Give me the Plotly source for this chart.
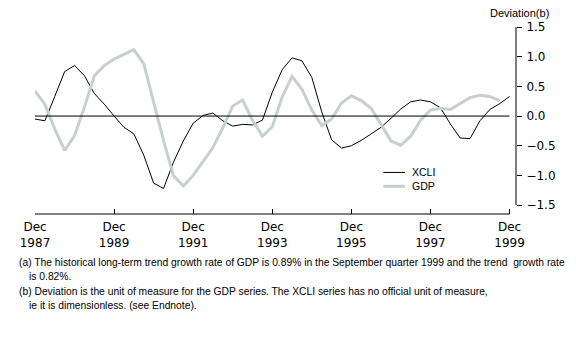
import plotly.graph_objects as go

# quarterly points, Dec 1987 .. Dec 1999 (index 0 = Dec 1987)
xcli = [-0.05, -0.08, 0.33, 0.75, 0.85, 0.68, 0.38, 0.20, 0.00, -0.19,
        -0.30, -0.66, -1.13, -1.22, -0.78, -0.42, -0.12, 0.01, 0.05, -0.08,
        -0.17, -0.14, -0.15, -0.07, 0.40, 0.78, 0.98, 0.93, 0.65, 0.07,
        -0.40, -0.54, -0.50, -0.41, -0.30, -0.19, -0.04, 0.12, 0.24, 0.27,
        0.24, 0.14, -0.13, -0.37, -0.38, -0.08, 0.11, 0.21, 0.33]
gdp = [0.42, 0.20, -0.22, -0.58, -0.33, 0.15, 0.68, 0.85, 0.96, 1.04,
       1.12, 0.88, 0.22, -0.41, -1.00, -1.18, -1.00, -0.76, -0.53, -0.20,
       0.17, 0.27, -0.07, -0.34, -0.18, 0.32, 0.67, 0.45, 0.10, -0.16,
       -0.05, 0.22, 0.34, 0.26, 0.13, -0.14, -0.42, -0.49, -0.34, -0.07,
       0.10, 0.13, 0.11, 0.21, 0.31, 0.35, 0.33, 0.26]
tick_pos = [0, 8, 16, 24, 32, 40, 48]
tick_text = ["Dec<br>1987", "Dec<br>1989", "Dec<br>1991", "Dec<br>1993",
             "Dec<br>1995", "Dec<br>1997", "Dec<br>1999"]
y_ticks = [-1.5, -1.0, -0.5, 0.0, 0.5, 1.0, 1.5]
series_names = ["XCLI", "GDP"]
series_colors = ["black", "#c8d0cc"]
series_widths = [1, 3]

notes = [
    "(a) The historical long-term trend growth rate of GDP is 0.89% in the September quarter 1999 and the trend  growth rate",
    "is 0.82%.",
    "(b) Deviation is the unit of measure for the GDP series. The XCLI series has no official unit of measure,",
    "ie it is dimensionless. (see Endnote).",
]

# the page body has an 8px margin, so the figure is drawn from (8, 8)
OFF = 8
W, H = 576 - OFF, 338 - OFF
L, R, T, B = 26.5, 516, 25, 214   # plot area in window pixels
SANS = "Liberation Sans, Arial, sans-serif"


def px(x, y):
    # window pixel position -> paper coordinates
    return (x - L) / (R - L), (B - y) / (B - T)


fig = go.Figure()
for name, vals, col, w in zip(series_names, [xcli, gdp], series_colors, series_widths):
    fig.add_trace(go.Scatter(x=list(range(len(vals))), y=vals, name=name,
                             mode="lines", line=dict(color=col, width=w)))

# zero line, x axis line, y axis line
fig.add_shape(type="line", x0=0, x1=48, y0=0, y1=0, xref="x", yref="y",
              line=dict(color="black", width=1))
fig.add_shape(type="line", x0=0, x1=48, y0=0, y1=0, xref="x", yref="paper",
              line=dict(color="black", width=1))
fig.add_shape(type="line", x0=1, x1=1, y0=-1.5, y1=1.5, xref="paper", yref="y",
              line=dict(color="black", width=1))

# legend drawn by hand (tighter than plotly's)
for i, (name, col, w) in enumerate(zip(series_names, series_colors, series_widths)):
    x0, yy = px(381, 172 + 14 * i)
    x1, _ = px(403, 0)
    fig.add_shape(type="line", x0=x0, x1=x1, y0=yy, y1=yy, xref="paper", yref="paper",
                  line=dict(color=col, width=w))
    tx, _ = px(408, 0)
    fig.add_annotation(text=name, x=tx, y=yy, xref="paper", yref="paper",
                       xanchor="left", yanchor="middle", showarrow=False,
                       font=dict(family=SANS, size=10.5, color="black"))

ax, ay = px(552, 11)
fig.add_annotation(text="Deviation(b)", x=ax, y=ay, xref="paper", yref="paper",
                   xanchor="right", yanchor="middle", showarrow=False,
                   font=dict(family=SANS, size=11, color="black"))

note_pos = [(OFF, 263), (OFF + 10, 277), (OFF, 292), (OFF + 10, 306)]
for txt, (nx, ny) in zip(notes, note_pos):
    ax, ay = px(nx, ny)
    fig.add_annotation(text=txt, x=ax, y=ay, xref="paper", yref="paper",
                       xanchor="left", yanchor="middle", showarrow=False,
                       font=dict(family=SANS, size=10.3, color="black"))

fig.update_layout(
    width=W, height=H,
    margin=dict(l=L - OFF, r=576 - R, t=T - OFF, b=338 - B, pad=0),
    plot_bgcolor="white", paper_bgcolor="white",
    font=dict(family="DejaVu Sans", size=12, color="black"),
    showlegend=False,
    xaxis=dict(range=[0, 48.65], showgrid=False, zeroline=False, showline=False,
               tickmode="array", tickvals=tick_pos, ticktext=tick_text,
               ticks="inside", ticklen=5, tickcolor="black", ticklabelstandoff=4),
    yaxis=dict(range=[-1.65, 1.5], side="right", showgrid=False, zeroline=False,
               showline=False, tickmode="array", tickvals=y_ticks,
               tickformat=".1f", ticks="outside", ticklen=5, tickcolor="black",
               ticklabelstandoff=2),
)

fig.write_html("out.html")
